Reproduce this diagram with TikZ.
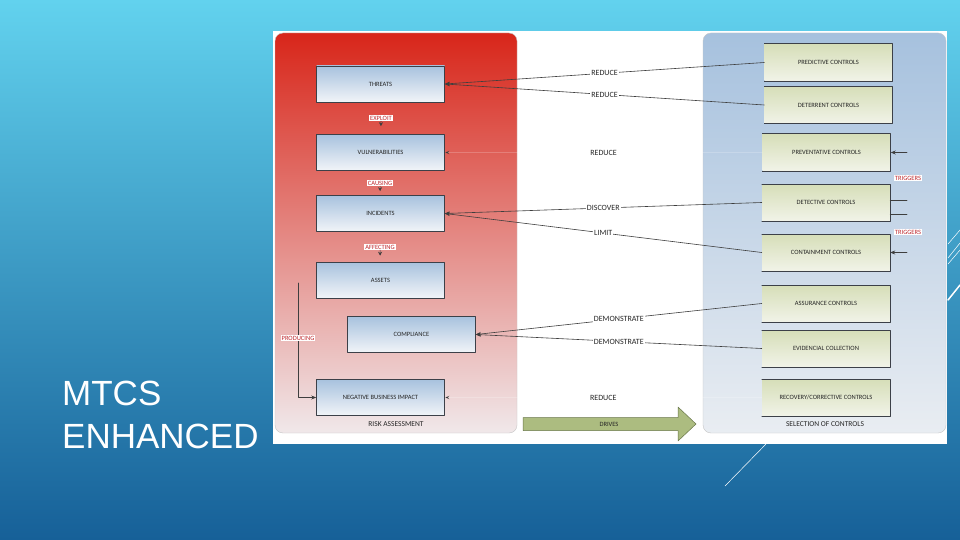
\documentclass[tikz,border=0pt]{standalone}
\usepackage{fontspec}
\usetikzlibrary{arrows.meta,calc}
\newfontfamily\lblfont{Carlito}
\newfontfamily\ttlfont{Liberation Sans}
\definecolor{bgtop}{RGB}{98,210,238}
\definecolor{bgmid}{RGB}{44,143,192}
\definecolor{bgbot}{RGB}{22,96,152}
\definecolor{redtop}{RGB}{216,38,26}
\definecolor{redmid}{RGB}{228,118,102}
\definecolor{redbot}{RGB}{240,232,234}
\definecolor{bluetop}{RGB}{166,193,222}
\definecolor{bluebot}{RGB}{233,237,242}
\definecolor{risktop}{RGB}{168,194,222}
\definecolor{riskbot}{RGB}{241,244,248}
\definecolor{ctrltop}{RGB}{214,222,184}
\definecolor{ctrlbot}{RGB}{241,243,232}
\definecolor{boxline}{RGB}{60,64,72}
\definecolor{linkgray}{RGB}{62,62,62}
\definecolor{trigred}{RGB}{190,40,45}
\definecolor{drivegreen}{RGB}{172,188,128}
\definecolor{driveline}{RGB}{104,118,72}

\begin{document}
\begin{tikzpicture}[x=1pt, y=-1pt, line join=round, line cap=round,
    riskbox/.style={draw=boxline, line width=0.6pt, top color=risktop, bottom color=riskbot,
      minimum width=128pt, minimum height=36pt, inner sep=0pt,
      font=\lblfont\fontsize{6.5}{7.5}\selectfont, text=black!85},
    ctrlbox/.style={top color=ctrltop, bottom color=ctrlbot,
      minimum width=128pt, minimum height=37pt, inner sep=0pt,
      font=\lblfont\fontsize{6.5}{7.5}\selectfont, text=black!85},
    verb/.style={fill=white, inner sep=1pt, font=\lblfont\fontsize{8}{9}\selectfont, text=black!85},
    redlbl/.style={fill=white, inner sep=0.8pt, text=trigred, font=\lblfont\fontsize{6.5}{7}\selectfont},
    paneltitle/.style={font=\lblfont\fontsize{7.5}{8}\selectfont, text=black!85},
    ttl/.style={anchor=base west, text=white, font=\ttlfont\fontsize{35}{42}\selectfont, inner sep=0pt},
    link/.style={draw=linkgray, line width=0.6pt, -{Stealth[length=5pt,width=4pt]}},
    faint/.style={draw=white, draw opacity=0.2, line width=0.6pt, -{Stealth[length=5pt,width=4pt,color=linkgray]}},
    flow/.style={draw=linkgray, line width=0.6pt, -{Stealth[length=4pt,width=4pt]}}]
  \useasboundingbox (0,0) rectangle (960,540);
  \shade[top color=bgtop, middle color=bgmid, bottom color=bgbot] (0,0) rectangle (960,540);
  \draw[white, line width=0.5pt] (725,486) -- (766,444);
  \draw[white, line width=0.5pt] (948,244) -- (960,230) (948,258) -- (960,243) (948,264) -- (960,250);
  \draw[white, line width=1.5pt] (948,300) -- (960,285);
  \fill[white] (273,31) rectangle (947,444);
  \shade[rounded corners=8pt, draw=gray!45, top color=redtop, middle color=redmid, bottom color=redbot]
    (275,33) rectangle (517,433);
  \shade[rounded corners=8pt, draw=gray!45, top color=bluetop, bottom color=bluebot]
    (703,33) rectangle (946,433);
  \node[paneltitle] (risk) at (396,424) {RISK ASSESSMENT};
  \node[paneltitle] (select) at (825,424) {SELECTION OF CONTROLS};

  \foreach \n/\x/\y/\t in {threats/380.5/84/THREATS, vuln/380.5/152.5/VULNERABILITIES,
      incid/380.5/213.5/INCIDENTS, assets/380.5/280/ASSETS, compl/411.5/334.5/COMPLIANCE,
      nbi/380.5/397.5/NEGATIVE BUSINESS IMPACT}
    \node[riskbox] (\n) at (\x,\y) {\t};

  \foreach \n/\x/\y/\t in {pred/828.5/62.5/PREDICTIVE CONTROLS, deter/828.5/105/DETERRENT CONTROLS,
      prev/826.5/152.5/PREVENTATIVE CONTROLS, detect/826/202.5/DETECTIVE CONTROLS,
      contain/826/252.5/CONTAINMENT CONTROLS, assur/826/303.5/ASSURANCE CONTROLS,
      evid/826/348.5/EVIDENCIAL COLLECTION, recov/826/397.5/{RECOVERY/CORRECTIVE CONTROLS}}
    {\node[ctrlbox] (\n) at (\x,\y) {\t};
     \draw[boxline, line width=0.6pt] (\n.north west) -- (\n.north east) -- (\n.south east) -- (\n.south west);}

  \node[redlbl] (exploit) at (381,118) {EXPLOIT};
  \node[redlbl] (causing) at (380,183) {CAUSING};
  \node[redlbl] (affect) at (380,247) {AFFECTING};
  \draw[flow, shorten >=8pt] (exploit) -- (vuln);
  \draw[flow, shorten >=4pt] (causing) -- (incid);
  \draw[flow, shorten >=6pt] (affect) -- (assets);
  \coordinate (prodtop) at (298,283);
  \draw[link] (prodtop) |- node[redlbl, pos=0.24]{PRODUCING} (nbi.west);

  \draw[link] (pred.west) -- node[verb]{REDUCE} (threats.east);
  \draw[link] (deter.west) -- node[verb]{REDUCE} (threats.east);
  \draw[faint] (prev.west) -- node[verb]{REDUCE} (vuln.east);
  \draw[link] (detect.west) -- node[verb]{DISCOVER} (incid.east);
  \draw[link] (contain.west) -- node[verb]{LIMIT} (incid.east);
  \draw[link] (assur.west) -- node[verb]{DEMONSTRATE} (compl.east);
  \draw[link] (evid.west) -- node[verb]{DEMONSTRATE} (compl.east);
  \draw[faint] (recov.west) -- node[verb]{REDUCE} (nbi.east);

  \foreach \t/\y in {trgA/152.5, trgB/200, trgC/214, trgD/252.5}
    \coordinate (\t) at (907,\y);
  \draw[link] (trgA) -- (prev.east);
  \draw[linkgray, line width=0.6pt] (detect.east |- trgB) -- (trgB) (detect.east |- trgC) -- (trgC);
  \draw[link] (trgD) -- (contain.east);
  \node[redlbl] (trig1) at (908,178) {TRIGGERS};
  \node[redlbl] (trig2) at (908,232) {TRIGGERS};

  \filldraw[fill=drivegreen, draw=driveline, line width=0.5pt] (523,417.5) -- (678,417.5) -- (678,407)
    -- (696,424) -- (678,441) -- (678,430.5) -- (523,430.5) -- cycle;
  \node[font=\lblfont\fontsize{6.5}{7}\selectfont, text=black!85] (drives) at (609,424) {DRIVES};

  \node[ttl] (ttla) at (62,405) {MTCS};
  \node[ttl] (ttlb) at (62,448) {ENHANCED};
\end{tikzpicture}
\end{document}
